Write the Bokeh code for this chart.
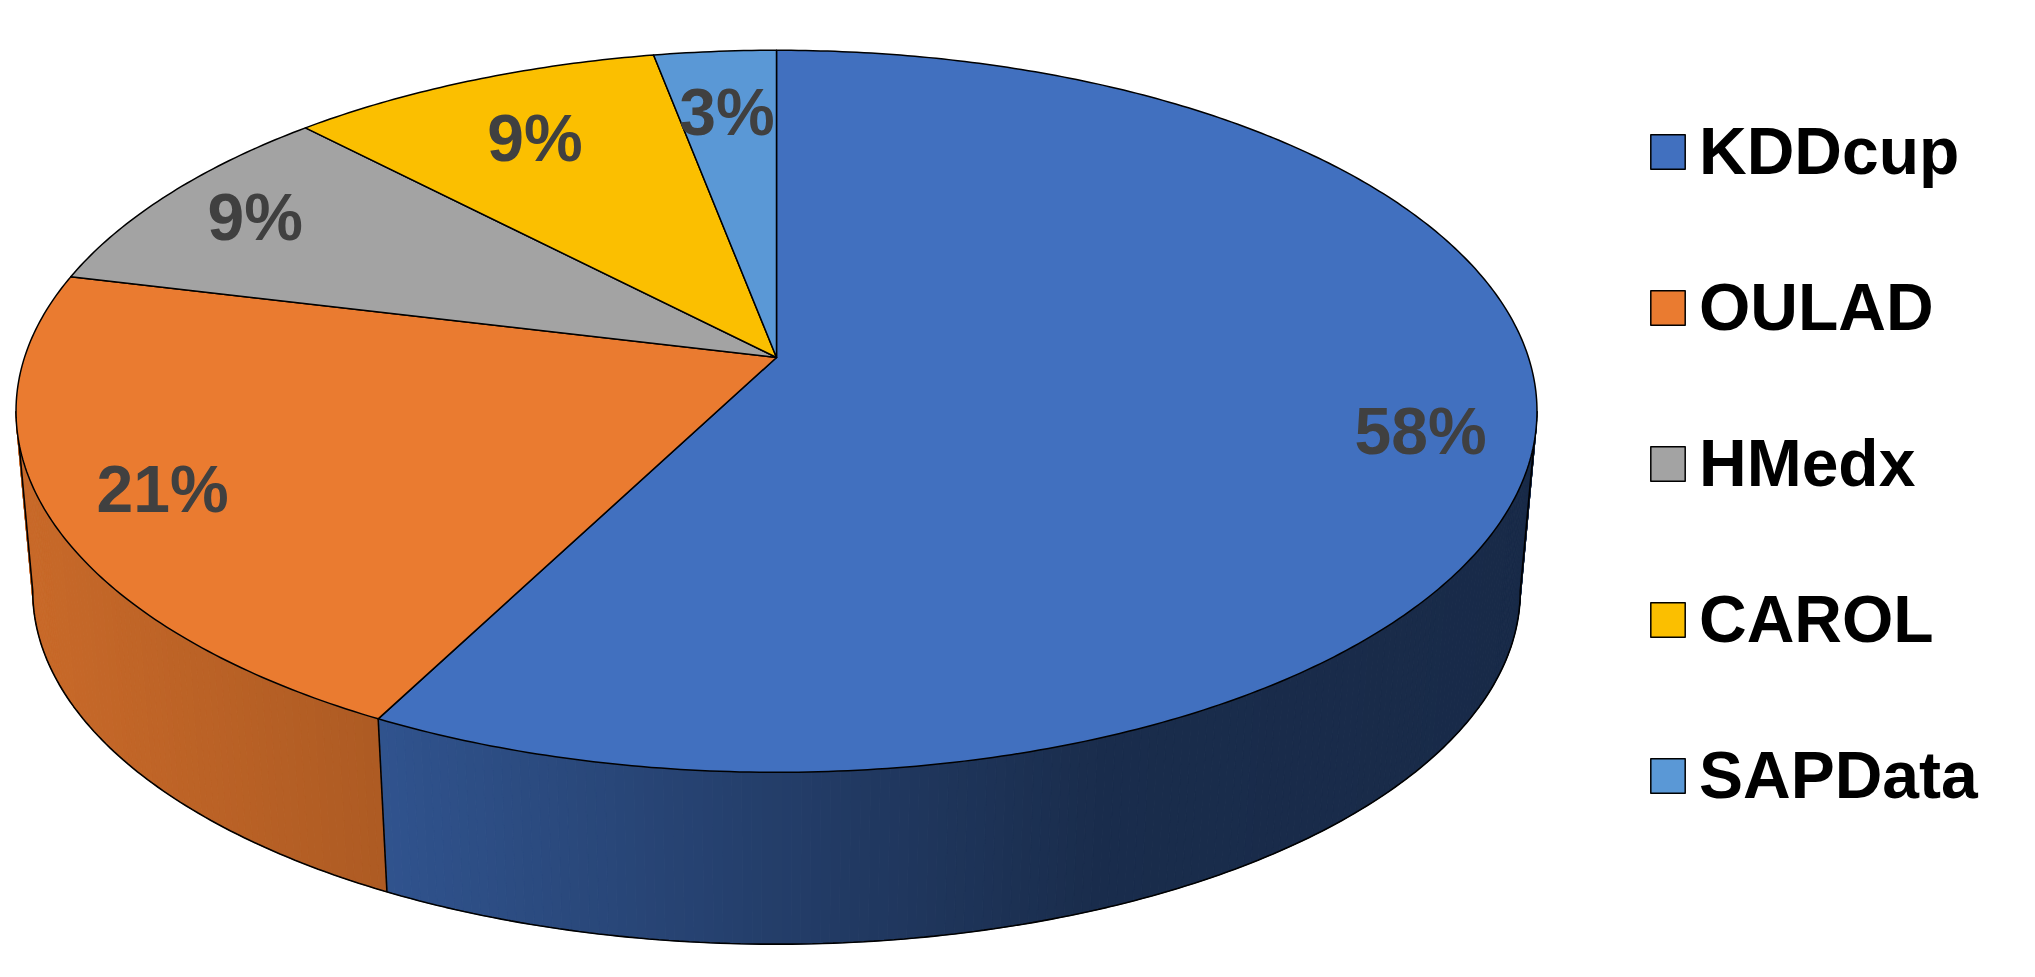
import numpy as np
from bokeh.plotting import figure
from bokeh.models import ColumnDataSource, Legend, LegendItem
from bokeh.core.properties import value
from bokeh.embed import file_html
from bokeh.resources import INLINE

# Data
categories = ["KDDcup", "OULAD", "HMedx", "CAROL", "SAPData"]
shares = [57.6, 21.2, 9.0, 9.2, 3.0]
shown_labels = ["58%", "21%", "9%", "9%", "3%"]
colors = ["#4170BF", "#EA7B30", "#A3A3A3", "#FBBF00", "#5A98D6"]
label_radii = [0.855, 0.85, 0.85, 0.77, 0.78]

# Perspective of the disc, in image pixels
APEX_X, APEX_Y = 776.0, 357.0
K, A, C = 752.0, 353.0, 0.149
DROP, SHRINK = 181.0, 0.978


def top_xy(theta, r=1.0):
    X, Y = r * np.sin(theta), r * np.cos(theta)
    w = 1 + C * Y
    return APEX_X + K * X / w, APEX_Y - A * Y / w


def low_xy(theta):
    x, y = top_xy(theta)
    return APEX_X + SHRINK * (x - APEX_X), APEX_Y + DROP + SHRINK * (y - APEX_Y)


W, H = 2019, 955
p = figure(width=W, height=H, x_range=(0, W), y_range=(H, 0),
           output_backend="svg", toolbar_location=None, min_border=0,
           outline_line_color=None)
p.axis.visible = False
p.grid.visible = False

edges = np.radians(np.concatenate([[0], np.cumsum(shares)]) * 3.6)
side_start = np.pi / 2 + np.arcsin(C)
side_end = 3 * np.pi / 2 - np.arcsin(C)


def shade(x):
    return np.interp(x, [16, 387, 1100, 1530], [0.86, 0.74, 0.40, 0.38])


def rgb(hexs):
    return np.array([int(hexs[i:i + 2], 16) for i in (1, 3, 5)], dtype=float)


# Rim, drawn as narrow bands that darken towards the right
xs, ys, fills = [], [], []
for i in range(len(shares)):
    lo, hi = max(edges[i], side_start), min(edges[i + 1], side_end)
    if hi <= lo:
        continue
    t = np.linspace(lo, hi, max(3, int((hi - lo) * 90)))
    for a, b in zip(t[:-1], t[1:]):
        ax, ay = top_xy(a)
        bx, by = top_xy(b)
        cx, cy = low_xy(b)
        dx, dy = low_xy(a)
        xs.append([ax, bx, cx, dx])
        ys.append([ay, by, cy, dy])
        c = rgb(colors[i]) * shade((ax + bx) / 2)
        fills.append("#%02x%02x%02x" % tuple(int(v) for v in c))
p.patches("x", "y", fill_color="c", line_color="c", line_width=1,
          source=ColumnDataSource(dict(x=xs, y=ys, c=fills)))

# Rim outlines
t = np.linspace(side_start, side_end, 240)
lx, ly = low_xy(t)
tx0, ty0 = top_xy(side_start)
tx1, ty1 = top_xy(side_end)
p.line(np.r_[tx0, lx, tx1], np.r_[ty0, ly, ty1], line_color="black", line_width=1.6)
sx0, sy0 = top_xy(edges[1])
sx1, sy1 = low_xy(edges[1])
p.line([sx0, sx1], [sy0, sy1], line_color="black", line_width=1.6)

# Top face
wedges = []
for i in range(len(shares)):
    t = np.linspace(edges[i], edges[i + 1], max(4, int((edges[i + 1] - edges[i]) * 90)))
    x, y = top_xy(t)
    wedges.append(p.patch(np.r_[APEX_X, x], np.r_[APEX_Y, y], fill_color=colors[i],
                          line_color="black", line_width=1.5, line_join="round"))

# Percent labels
mid = (edges[:-1] + edges[1:]) / 2
lab_x, lab_y = top_xy(mid, np.array(label_radii))
p.text(lab_x, lab_y, text=shown_labels, text_font=value("Liberation Sans"),
       text_font_style="bold", text_font_size="66px", text_color="#404040",
       text_align="center", text_baseline="middle")

legend = Legend(items=[LegendItem(label=value(c), renderers=[r]) for c, r in zip(categories, wedges)],
                location=(1646, 142), orientation="vertical",
                label_text_font="Liberation Sans", label_text_font_style="bold",
                label_text_font_size="66px", label_text_color="black",
                glyph_width=43, glyph_height=43, label_standoff=10,
                spacing=80, padding=0, margin=0,
                background_fill_alpha=0, border_line_alpha=0)
p.add_layout(legend, "center")

open("out.html", "w").write(file_html(p, INLINE))
